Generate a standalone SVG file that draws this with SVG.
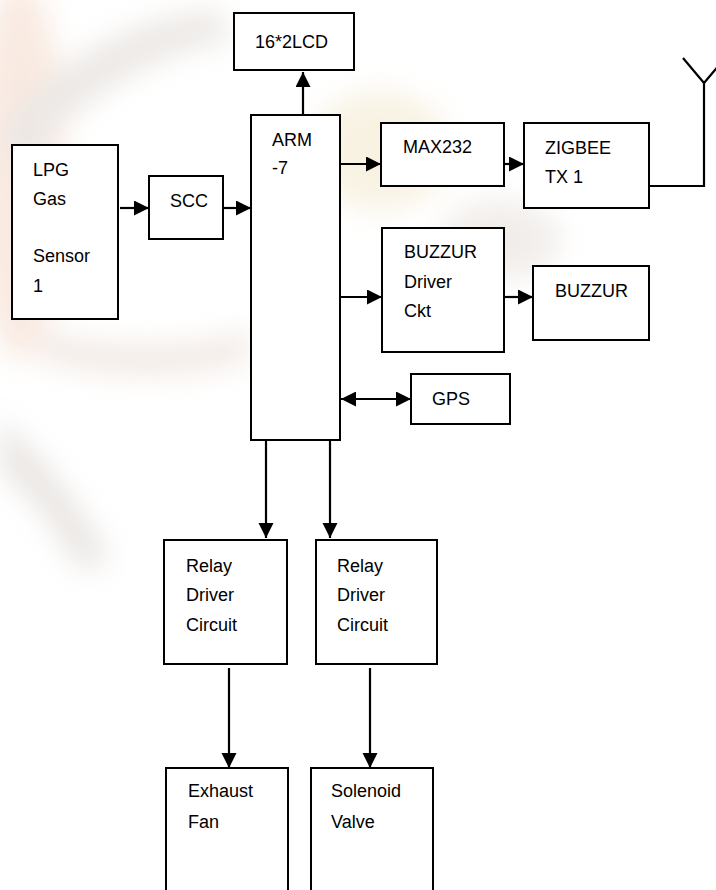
<svg xmlns="http://www.w3.org/2000/svg" width="716" height="890" viewBox="0 0 716 890">
<style>
.box{fill:#ffffff;stroke:#000;stroke-width:2}
.t{font-family:"Liberation Sans",Arial,sans-serif;font-size:18px;fill:#000}
.c{fill:none;stroke:#000;stroke-width:2.2}
.wm{stroke:none}
</style>
<defs>
<marker id="ah" markerUnits="userSpaceOnUse" markerWidth="16" markerHeight="16" refX="15" refY="7.5" orient="auto">
<path d="M0,0 L15,7.5 L0,15 Z" fill="#000"/>
</marker>
<marker id="as" markerUnits="userSpaceOnUse" markerWidth="16" markerHeight="16" refX="0" refY="7.5" orient="auto">
<path d="M15,0 L0,7.5 L15,15 Z" fill="#000"/>
</marker>
<filter id="blur" x="-20%" y="-20%" width="140%" height="140%"><feGaussianBlur stdDeviation="14"/></filter>
</defs>
<rect width="716" height="890" fill="#ffffff"/>
<g id="watermark" filter="url(#blur)" opacity="0.5">
<ellipse class="wm" cx="20" cy="170" rx="45" ry="190" fill="#f3d6c4"/>
<path class="wm" d="M0,130 Q90,20 220,10 L230,40 Q110,60 20,170 Z" fill="#d9d2cc"/>
<ellipse class="wm" cx="380" cy="150" rx="70" ry="60" fill="#f2e6c8"/>
<path class="wm" d="M0,420 Q60,470 110,560 L80,570 Q40,500 0,470 Z" fill="#d4ccc6"/>
<path class="wm" d="M40,330 Q150,360 250,330 L250,360 Q150,390 40,360 Z" fill="#e6d6cc"/>
<ellipse class="wm" cx="500" cy="240" rx="60" ry="40" fill="#e4ddd6"/>
</g>
<g id="connectors">
<line class="c" x1="303" y1="115" x2="303" y2="72" marker-end="url(#ah)"/>
<line class="c" x1="120" y1="208" x2="149" y2="208" marker-end="url(#ah)"/>
<line class="c" x1="223" y1="208" x2="251" y2="208" marker-end="url(#ah)"/>
<line class="c" x1="340" y1="164" x2="381" y2="164" marker-end="url(#ah)"/>
<line class="c" x1="504" y1="164" x2="524" y2="164" marker-end="url(#ah)"/>
<polyline class="c" points="649,186 704,186 704,83"/>
<polyline class="c" points="683,58 704,83 725,58"/>
<line class="c" x1="340" y1="297" x2="382" y2="297" marker-end="url(#ah)"/>
<line class="c" x1="504" y1="297" x2="533" y2="297" marker-end="url(#ah)"/>
<line class="c" x1="341" y1="399" x2="411" y2="399" marker-start="url(#as)" marker-end="url(#ah)"/>
<line class="c" x1="266" y1="440" x2="266" y2="538" marker-end="url(#ah)"/>
<line class="c" x1="330" y1="440" x2="330" y2="538" marker-end="url(#ah)"/>
<line class="c" x1="229" y1="668" x2="229" y2="768" marker-end="url(#ah)"/>
<line class="c" x1="370" y1="668" x2="370" y2="768" marker-end="url(#ah)"/>
</g>
<g id="lcd"><rect class="box" x="234" y="13" width="120" height="57"/><text class="t" x="255" y="48">16*2LCD</text></g>
<g id="lpg"><rect class="box" x="12" y="145" width="106" height="174"/>
<text class="t" x="33" y="176">LPG</text><text class="t" x="33" y="205">Gas</text><text class="t" x="33" y="262">Sensor</text><text class="t" x="33" y="292">1</text></g>
<g id="scc"><rect class="box" x="149" y="176" width="74" height="63"/><text class="t" x="170" y="207">SCC</text></g>
<g id="arm"><rect class="box" x="251" y="115" width="89" height="325"/><text class="t" x="272" y="146">ARM</text><text class="t" x="272" y="174">-7</text></g>
<g id="max232"><rect class="box" x="381" y="123" width="123" height="63"/><text class="t" x="403" y="153">MAX232</text></g>
<g id="zigbee"><rect class="box" x="524" y="123" width="125" height="85"/><text class="t" x="545" y="154">ZIGBEE</text><text class="t" x="545" y="183">TX 1</text></g>
<g id="buzzdrv"><rect class="box" x="382" y="228" width="122" height="124"/><text class="t" x="404" y="258">BUZZUR</text><text class="t" x="404" y="288">Driver</text><text class="t" x="404" y="317">Ckt</text></g>
<g id="buzzur"><rect class="box" x="533" y="266" width="116" height="74"/><text class="t" x="555" y="297">BUZZUR</text></g>
<g id="gps"><rect class="box" x="411" y="374" width="99" height="50"/><text class="t" x="432" y="405">GPS</text></g>
<g id="relay1"><rect class="box" x="164" y="540" width="123" height="124"/><text class="t" x="186" y="572">Relay</text><text class="t" x="186" y="601">Driver</text><text class="t" x="186" y="631">Circuit</text></g>
<g id="relay2"><rect class="box" x="316" y="540" width="121" height="124"/><text class="t" x="337" y="572">Relay</text><text class="t" x="337" y="601">Driver</text><text class="t" x="337" y="631">Circuit</text></g>
<g id="fan"><rect class="box" x="166" y="768" width="122" height="130"/><text class="t" x="188" y="797">Exhaust</text><text class="t" x="188" y="828">Fan</text></g>
<g id="valve"><rect class="box" x="311" y="768" width="122" height="130"/><text class="t" x="331" y="797">Solenoid</text><text class="t" x="331" y="828">Valve</text></g>
</svg>
